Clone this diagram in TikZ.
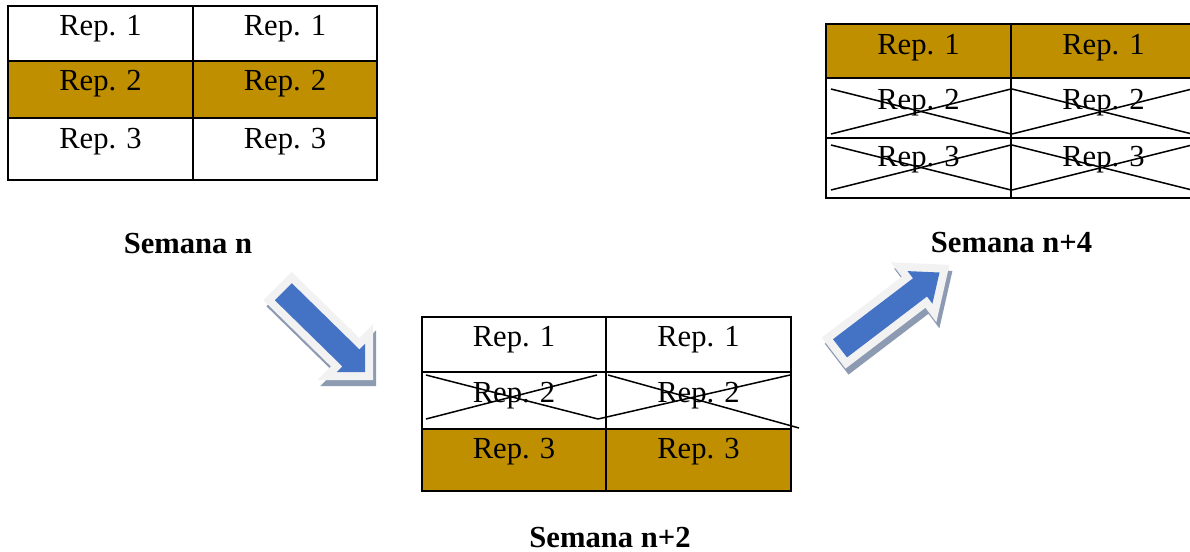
\documentclass[tikz,border=0pt]{standalone}
\usepackage{fontspec}
\setmainfont{Liberation Serif}
\definecolor{gold}{RGB}{191,143,0}
\definecolor{arrowblue}{RGB}{68,114,196}
\definecolor{arrowrim}{RGB}{242,242,242}
\definecolor{arrowshadow}{RGB}{140,154,178}
\tikzset{
  cell/.style={draw=black, line width=1pt, fill=white},
  goldcell/.style={cell, fill=gold},
  reptext/.style={anchor=base, inner sep=0pt, font=\fontsize{15.3}{18}\selectfont},
  weektext/.style={anchor=base, inner sep=0pt, font=\fontsize{15.3}{18}\selectfont\bfseries},
  crossline/.style={draw=black, line width=0.75pt},
  shadowpart/.style={fill=arrowshadow, draw=arrowshadow, line width=8pt, line join=miter},
  rimpart/.style={draw=arrowrim, line width=8pt, line join=miter},
  bluepart/.style={fill=arrowblue}
}
\begin{document}
\begin{tikzpicture}[x=0.5pt, y=-0.5pt]
\clip (0,0) rectangle (1190,552);
\fill[white] (0,0) rectangle (1190,552);

% ---------- Table: Semana n ----------
\path[cell]     (8,6)    rectangle (193,61);
\path[cell]     (193,6)  rectangle (377,61);
\path[goldcell] (8,61)   rectangle (193,118);
\path[goldcell] (193,61) rectangle (377,118);
\path[cell]     (8,118)  rectangle (193,180);
\path[cell]     (193,118) rectangle (377,180);
\node[reptext] (a11) at (100.5,35) {Rep. 1};
\node[reptext] (a12) at (285,35)   {Rep. 1};
\node[reptext] (a21) at (100.5,90) {Rep. 2};
\node[reptext] (a22) at (285,90)   {Rep. 2};
\node[reptext] (a31) at (100.5,148) {Rep. 3};
\node[reptext] (a32) at (285,148)   {Rep. 3};
\node[weektext] (wa) at (188,253) {Semana n};

% ---------- Table: Semana n+2 ----------
\path[cell]     (422,317) rectangle (606,372);
\path[cell]     (606,317) rectangle (791,372);
\path[cell]     (422,372) rectangle (606,429);
\path[cell]     (606,372) rectangle (791,429);
\path[goldcell] (422,429) rectangle (606,491);
\path[goldcell] (606,429) rectangle (791,491);
\node[reptext] (b11) at (514,346) {Rep. 1};
\node[reptext] (b12) at (698.5,346) {Rep. 1};
\node[reptext] (b21) at (514,402) {Rep. 2};
\node[reptext] (b22) at (698.5,402) {Rep. 2};
\node[reptext] (b31) at (514,458) {Rep. 3};
\node[reptext] (b32) at (698.5,458) {Rep. 3};
\draw[crossline] (426,375) -- (598,419);
\draw[crossline] (426,419) -- (597,375);
\draw[crossline] (608,375) -- (799,428);
\draw[crossline] (598,419) -- (790,375);
\node[weektext] (wb) at (610,547) {Semana n+2};

% ---------- Table: Semana n+4 ----------
\path[goldcell] (826,24)   rectangle (1011,78);
\path[goldcell] (1011,24)  rectangle (1196,78);
\path[cell]     (826,78)   rectangle (1011,138);
\path[cell]     (1011,78)  rectangle (1196,138);
\path[cell]     (826,138)  rectangle (1011,198);
\path[cell]     (1011,138) rectangle (1196,198);
\node[reptext] (c11) at (918.5,54)  {Rep. 1};
\node[reptext] (c12) at (1103.5,54) {Rep. 1};
\node[reptext] (c21) at (918.5,109) {Rep. 2};
\node[reptext] (c22) at (1103.5,109) {Rep. 2};
\node[reptext] (c31) at (918.5,166) {Rep. 3};
\node[reptext] (c32) at (1103.5,166) {Rep. 3};
\draw[crossline] (831,89)  -- (1011,134);
\draw[crossline] (831,134) -- (1011,89);
\draw[crossline] (1012,89)  -- (1192,134);
\draw[crossline] (1012,134) -- (1192,89);
\draw[crossline] (831,145) -- (1011,190);
\draw[crossline] (831,190) -- (1011,145);
\draw[crossline] (1012,145) -- (1192,190);
\draw[crossline] (1012,190) -- (1192,145);
\node[weektext] (wc) at (1011.5,252) {Semana n+4};

% ---------- Arrow: n -> n+2 ----------
\begin{scope}[shift={(3,6)}]
\path[shadowpart] (291.8,283.2) -- (359.4,349.4) -- (365.0,343.8) -- (365,372)
  -- (336.8,372) -- (342.4,366.4) -- (274.8,300.2) -- cycle;
\end{scope}
\path[rimpart] (291.8,283.2) -- (359.4,349.4) -- (365.0,343.8) -- (365,372)
  -- (336.8,372) -- (342.4,366.4) -- (274.8,300.2) -- cycle;
\path[bluepart] (291.8,283.2) -- (359.4,349.4) -- (365.0,343.8) -- (365,372)
  -- (336.8,372) -- (342.4,366.4) -- (274.8,300.2) -- cycle;

% ---------- Arrow: n+2 -> n+4 ----------
\begin{scope}[shift={(3,6)}]
\path[shadowpart] (833.0,339.2) -- (913.0,278.3) -- (907.6,271.1) -- (939.5,272.5)
  -- (932.4,303.7) -- (927.0,296.5) -- (847.0,357.4) -- cycle;
\end{scope}
\path[rimpart] (833.0,339.2) -- (913.0,278.3) -- (907.6,271.1) -- (939.5,272.5)
  -- (932.4,303.7) -- (927.0,296.5) -- (847.0,357.4) -- cycle;
\path[bluepart] (833.0,339.2) -- (913.0,278.3) -- (907.6,271.1) -- (939.5,272.5)
  -- (932.4,303.7) -- (927.0,296.5) -- (847.0,357.4) -- cycle;
\end{tikzpicture}
\end{document}
